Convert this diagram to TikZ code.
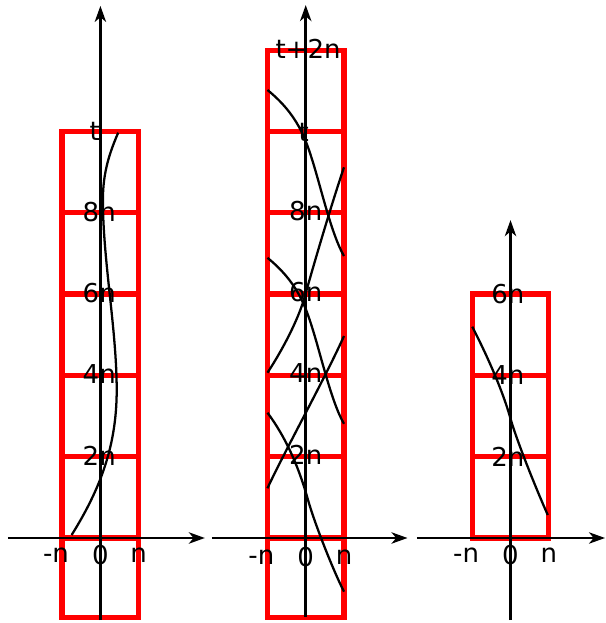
\documentclass[tikz,border=0pt]{standalone}
\usepackage{fontspec}
\setmainfont{DejaVu Sans}
\usetikzlibrary{arrows.meta}
\tikzset{
  cell/.style={draw=red, line width=4pt},
  ax/.style={line width=1.9pt, -{Stealth[length=12pt, width=8.5pt, inset=3.5pt]}},
  crv/.style={line width=1.7pt},
  lbl/.style={font=\fontsize{19.5}{22}\selectfont, inner sep=0pt}
}

\begin{document}
\begin{tikzpicture}[x=28.7pt, y=30.49pt]
  \useasboundingbox (-2.624,-2.091) rectangle (13.198,13.235);

  % left panel
  \begin{scope}
    \draw[cell] (-1,-1.95) rectangle (1,10);
    \foreach \k in {0,2,4,6,8}
      \draw[cell] (-1,\k) -- (1,\k);
    \draw[crv] (-0.752,0.074) .. controls (0.010,1.223) and (0.426,2.288) .. (0.426,3.641)
      .. controls (0.426,5.117) and (0.065,6.839) .. (0.065,8.315)
      .. controls (0.065,9.004) and (0.248,9.496) .. (0.465,9.971);
    \draw[ax] (0,-2.02) -- (0,13.09);
    \draw[ax] (-2.415,0) -- (2.73,0);
    \foreach \k in {2,4,6,8}
      \node[lbl] (la\k) at (-0.03,\k+0.03) {\k n};
    \node[lbl] (lat) at (-0.15,10) {t};
    \node[lbl] (lamn) at (-1.16,-0.42) {-n};
    \node[lbl] (lazero) at (0,-0.42) {0};
    \node[lbl] (lan) at (1,-0.42) {n};
  \end{scope}

  % middle panel
  \begin{scope}[xshift=5.366*28.7pt]
    \draw[cell] (-1,-1.95) rectangle (1,12);
    \foreach \k in {0,2,4,6,8,10}
      \draw[cell] (-1,\k) -- (1,\k);
    % falling curves
    \foreach \dy in {0,-4.128}
      \draw[crv, yshift=\dy*30.49pt] (-1,11.021) .. controls (-0.217,10.423) and (-0.005,9.823) .. (0.170,9.299)
        .. controls (0.405,8.598) and (0.674,7.466) .. (1,6.937);
    \draw[crv] (-1,3.082) .. controls (-0.530,2.492) and (-0.185,1.761) .. (0.060,0.935)
      .. controls (0.238,0.344) and (0.708,-0.775) .. (1,-1.321);
    % rising curves
    \draw[crv] (-1,4.066) .. controls (-0.640,4.578) and (-0.201,5.346) .. (-0.026,5.936)
      .. controls (0.256,6.881) and (0.666,8.185) .. (1,9.119);
    \draw[crv] (-1,1.223) .. controls (-0.601,2.042) and (0.548,4.010) .. (1,4.969);
    \draw[ax] (0,-1.94) -- (0,13.11);
    \draw[ax] (-2.45,0) -- (2.66,0);
    \foreach \k in {2,4,6,8}
      \node[lbl] (lb\k) at (0,\k+0.05) {\k n};
    \node[lbl] (lbt) at (-0.05,9.97) {t};
    \node[lbl] (lbtop) at (0.06,12.03) {t+2n};
    \node[lbl] (lbmn) at (-1.16,-0.47) {-n};
    \node[lbl] (lbzero) at (0,-0.47) {0};
    \node[lbl] (lbn) at (1,-0.47) {n};
  \end{scope}

  % right panel
  \begin{scope}[xshift=10.718*28.7pt]
    \draw[cell] (-1,0) rectangle (1,6);
    \foreach \k in {2,4}
      \draw[cell] (-1,\k) -- (1,\k);
    \draw[crv] (-1,5.198) .. controls (-0.640,4.541) and (-0.217,3.661) .. (-0.005,2.952)
      .. controls (0.172,2.362) and (0.708,1.124) .. (0.974,0.566);
    \draw[ax] (0,-2.02) -- (0,7.82);
    \draw[ax] (-2.45,0) -- (2.47,0);
    \foreach \k in {2,4,6}
      \node[lbl] (lc\k) at (-0.07,\k) {\k n};
    \node[lbl] (lcmn) at (-1.16,-0.42) {-n};
    \node[lbl] (lczero) at (0,-0.42) {0};
    \node[lbl] (lcn) at (1,-0.42) {n};
  \end{scope}
\end{tikzpicture}
\end{document}
